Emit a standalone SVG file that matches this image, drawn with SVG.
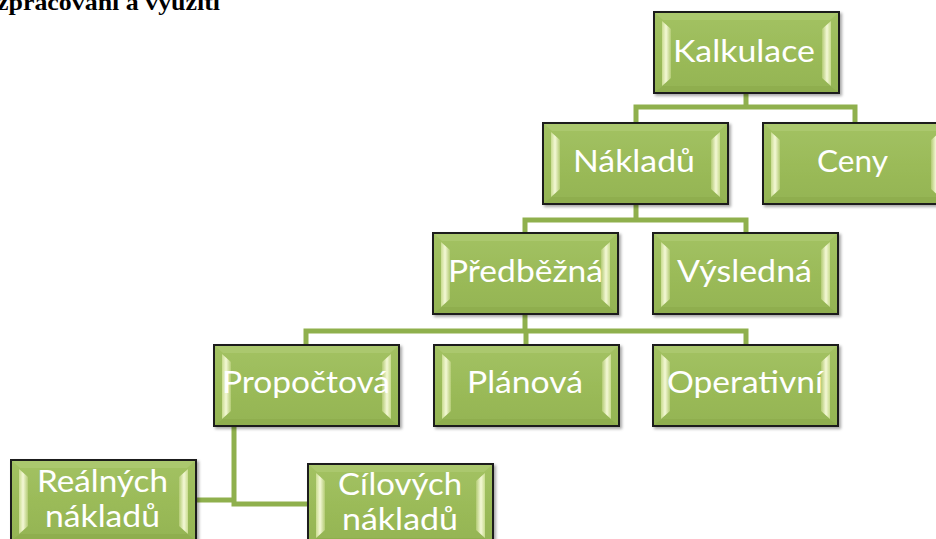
<svg xmlns="http://www.w3.org/2000/svg" xmlns:xlink="http://www.w3.org/1999/xlink" width="936" height="539" viewBox="0 0 936 539">
  <defs>
    <linearGradient id="barL" x1="0" y1="0" x2="1" y2="0">
      <stop offset="0" stop-color="#c9dc8f"/>
      <stop offset="0.45" stop-color="#f4f8d6"/>
      <stop offset="1" stop-color="#b3cb74"/>
    </linearGradient>
    <linearGradient id="barR" x1="1" y1="0" x2="0" y2="0">
      <stop offset="0" stop-color="#c9dc8f"/>
      <stop offset="0.45" stop-color="#f4f8d6"/>
      <stop offset="1" stop-color="#b3cb74"/>
    </linearGradient>
    <linearGradient id="face" x1="0" y1="0" x2="0" y2="1">
      <stop offset="0" stop-color="#a3c263"/>
      <stop offset="0.5" stop-color="#9bbb59"/>
      <stop offset="1" stop-color="#94b453"/>
    </linearGradient>
    <filter id="shadow" x="-10%" y="-10%" width="125%" height="130%">
      <feGaussianBlur in="SourceAlpha" stdDeviation="1.5"/>
      <feOffset dx="1.5" dy="2" result="b"/>
      <feComponentTransfer><feFuncA type="linear" slope="0.35"/></feComponentTransfer>
      <feMerge><feMergeNode/><feMergeNode in="SourceGraphic"/></feMerge>
    </filter>
    <!-- bevelled green box, 185 x 81 -->
    <g id="box">
      <rect x="0" y="0" width="185" height="81" fill="url(#face)" stroke="#1b1b1b" stroke-width="2" filter="url(#shadow)"/>
      <polygon points="1,1 184,1 176,8 9,8" fill="#abc86e"/>
      <polygon points="1,80 184,80 176,74 9,74" fill="#8fae4e"/>
      <polygon points="8,9 17,17 17,66 8,74" fill="url(#barL)"/>
      <polygon points="177,9 168,17 168,66 177,74" fill="url(#barR)"/>
    </g>
  </defs>
  <style>
    .lbl { font-family: Lato, "Open Sans", "Noto Sans", sans-serif; font-size: 30px; fill: #ffffff; text-anchor: middle; }
    .conn { fill: none; stroke: #8fb04d; stroke-width: 5; }
    .title { font-family: "Liberation Serif", "Times New Roman", serif; font-weight: bold; font-size: 24px; fill: #000000; }
  </style>

  <rect width="936" height="539" fill="#ffffff"/>

  <text class="title" x="-3" y="10" textLength="223" lengthAdjust="spacingAndGlyphs">zpracování a využití</text>

  <g id="connectors">
    <polyline class="conn" points="746,93 746,107"/>
    <polyline class="conn" points="636,123 636,107 855,107 855,123"/>
    <polyline class="conn" points="636,203 636,220"/>
    <polyline class="conn" points="525,233 525,220 746,220 746,233"/>
    <polyline class="conn" points="525,315 525,331"/>
    <polyline class="conn" points="306,345 306,331 746,331 746,345"/>
    <polyline class="conn" points="526,331 526,345"/>
    <polyline class="conn" points="234,426 234,504 308,504"/>
    <polyline class="conn" points="196,500 234,500"/>
  </g>

  <g id="node-kalkulace">
    <use xlink:href="#box" x="654" y="12"/>
    <text class="lbl" x="744" y="62" textLength="142" lengthAdjust="spacingAndGlyphs">Kalkulace</text>
  </g>
  <g id="node-nakladu">
    <use xlink:href="#box" x="543" y="123"/>
    <text class="lbl" x="634" y="172" textLength="122" lengthAdjust="spacingAndGlyphs">Nákladů</text>
  </g>
  <g id="node-ceny">
    <use xlink:href="#box" x="763" y="123"/>
    <text class="lbl" x="852.5" y="172" textLength="71" lengthAdjust="spacingAndGlyphs">Ceny</text>
  </g>
  <g id="node-predbezna">
    <use xlink:href="#box" x="433" y="233"/>
    <text class="lbl" x="525.5" y="282" textLength="155" lengthAdjust="spacingAndGlyphs">Předběžná</text>
  </g>
  <g id="node-vysledna">
    <use xlink:href="#box" x="653" y="233"/>
    <text class="lbl" x="744.5" y="282" textLength="135" lengthAdjust="spacingAndGlyphs">Výsledná</text>
  </g>
  <g id="node-propoctova">
    <use xlink:href="#box" x="214" y="345"/>
    <text class="lbl" x="306" y="393" textLength="168" lengthAdjust="spacingAndGlyphs">Propočtová</text>
  </g>
  <g id="node-planova">
    <use xlink:href="#box" x="434" y="345"/>
    <text class="lbl" x="525" y="393" textLength="116" lengthAdjust="spacingAndGlyphs">Plánová</text>
  </g>
  <g id="node-operativni">
    <use xlink:href="#box" x="653" y="345"/>
    <text class="lbl" x="745" y="393" textLength="156" lengthAdjust="spacingAndGlyphs">Operativní</text>
  </g>
  <g id="node-realnych">
    <use xlink:href="#box" x="11" y="460"/>
    <text class="lbl" x="102.5" y="492" textLength="131" lengthAdjust="spacingAndGlyphs">Reálných</text>
    <text class="lbl" x="102.5" y="527" textLength="115" lengthAdjust="spacingAndGlyphs">nákladů</text>
  </g>
  <g id="node-cilovych">
    <use xlink:href="#box" x="308" y="464"/>
    <text class="lbl" x="400" y="495" textLength="124" lengthAdjust="spacingAndGlyphs">Cílových</text>
    <text class="lbl" x="400" y="530" textLength="116" lengthAdjust="spacingAndGlyphs">nákladů</text>
  </g>
</svg>
